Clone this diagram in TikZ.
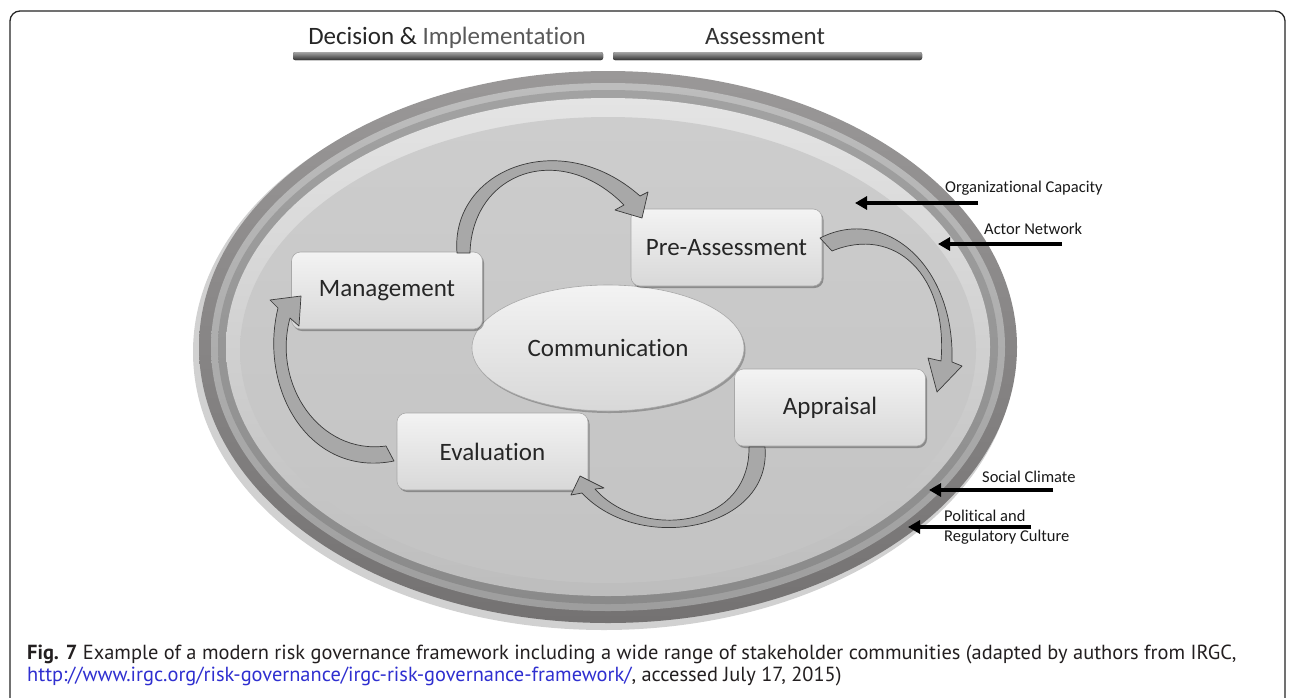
\documentclass[tikz,border=0pt]{standalone}
\usepackage{fontspec}
\setmainfont{Carlito}[Ligatures={NoCommon}]
\newfontfamily\capfont{PT Sans}
\usetikzlibrary{arrows.meta,shadows,shapes.geometric}
\definecolor{ringA1}{HTML}{9A9898}
\definecolor{ringA2}{HTML}{747272}
\definecolor{ringB1}{HTML}{BDBDBD}
\definecolor{ringB2}{HTML}{9E9E9E}
\definecolor{ringC1}{HTML}{A2A2A2}
\definecolor{ringC2}{HTML}{8A8A8A}
\definecolor{ringD1}{HTML}{E4E4E4}
\definecolor{ringD2}{HTML}{BDBDBD}
\definecolor{field1}{HTML}{CDCDCD}
\definecolor{field2}{HTML}{C3C3C3}
\definecolor{boxtop}{HTML}{F3F3F3}
\definecolor{boxbot}{HTML}{D8D8D8}
\definecolor{boxedge}{HTML}{A8A8A8}
\definecolor{boxtext}{HTML}{262626}
\definecolor{arrowfill}{HTML}{A8A8A8}
\definecolor{arrowedge}{HTML}{3A3A3A}
\definecolor{linkblue}{HTML}{2F2FD0}
\definecolor{captext}{HTML}{231F20}
\begin{document}
\begin{tikzpicture}[x=1pt,y=-1pt,
  stagebox/.style={rounded corners=9pt, minimum width=191pt, minimum height=77pt,
    top color=boxtop, bottom color=boxbot, draw=boxedge, line width=0.6pt,
    font=\fontsize{25}{30}\selectfont, text=boxtext, inner sep=0pt,
    drop shadow={shadow xshift=1.5pt, shadow yshift=-2pt, fill=black, opacity=0.3}},
  commshape/.style={ellipse, minimum width=272pt, minimum height=126pt,
    top color=boxtop, bottom color=boxbot, draw=boxedge, line width=0.6pt,
    font=\fontsize{25}{30}\selectfont, text=boxtext, inner sep=0pt,
    drop shadow={shadow xshift=1.5pt, shadow yshift=-2pt, fill=black, opacity=0.25}},
  flowarrow/.style={fill=arrowfill, draw=arrowedge, line width=0.7pt, line join=round},
  pointer/.style={-{Triangle[length=12pt,width=13pt]}, line width=4pt, black},
  sidelabel/.style={font=\fontsize{16.5}{20}\selectfont, text=black!90, inner sep=0pt, anchor=west},
  headlabel/.style={font=\fontsize{25}{30}\selectfont, inner sep=0pt, anchor=base},
  headbar/.style={rounded corners=2pt, top color=black!35, bottom color=black!80, draw=none},
  captionline/.style={anchor=base west, inner sep=0pt, font=\capfont\fontsize{20.4}{24}\selectfont, text=captext}
]
\useasboundingbox (0,0) rectangle (1290,697);
\fill[white] (0,0) rectangle (1290,697);
% frame
\draw[line width=1.3pt, rounded corners=10pt, black!85] (10,720) -- (10,11) -- (1285,11) -- (1285,720);

% header
\node[headlabel] (dec) at (447,44) {\textcolor{black!85}{Decision \&} \textcolor{black!65}{Implementation}};
\node[headlabel, text=black!80] (ass) at (765,44) {Assessment};
\fill[headbar] (293,52) rectangle (603,60);
\fill[headbar] (613,52) rectangle (922,60);

% rings
\fill[black, opacity=0.18] (604,352) ellipse [x radius=411pt, y radius=278pt];
\shade[top color=ringA1, bottom color=ringA2] (608,347) ellipse [x radius=409pt, y radius=276pt];
\shade[top color=ringB1, bottom color=ringB2] (608,347) ellipse [x radius=397pt, y radius=264pt];
\shade[top color=ringC1, bottom color=ringC2] (608,347) ellipse [x radius=390pt, y radius=257pt];
\shade[top color=ringD1, bottom color=ringD2] (608,347) ellipse [x radius=382pt, y radius=249pt];
\shade[top color=field1, bottom color=field2] (608,350) ellipse [x radius=368pt, y radius=233pt];

% centre
\node[commshape] (comm) at (608,348) {Communication};

% stages
\node[stagebox] (mgmt) at (387,290.5) {Management};
\node[stagebox] (pre) at (726.5,247.5) {Pre-Assessment};
\node[stagebox] (app) at (830,407.5) {Appraisal};
\node[stagebox] (eva) at (492.5,451.5) {Evaluation};

% curved block arrows
\path[flowarrow] (457,253) .. controls (450,170) and (560,125) .. (640,196)
  -- (648,192) -- (642,218) -- (615,210) -- (624,205)
  .. controls (560,140) and (472,172) .. (470,253) -- cycle;
\path[flowarrow] (820,238) .. controls (885,205) and (955,265) .. (952,362)
  -- (962,366) -- (937,392) -- (928,358) -- (941,361)
  .. controls (948,275) and (895,225) .. (832,251) -- cycle;
\path[flowarrow] (765,447) .. controls (772,530) and (640,555) .. (582,493)
  -- (571,495) -- (580,476) -- (604,488) -- (595,489)
  .. controls (640,540) and (750,530) .. (749,447) -- cycle;
\path[flowarrow] (394,461) .. controls (310,478) and (258,390) .. (278,308)
  -- (270,300) -- (301,296) -- (299,326) -- (290,318)
  .. controls (272,385) and (320,455) .. (386,446) -- cycle;

% outside influences
\node[sidelabel] (orgl) at (945,188) {Organizational Capacity};
\node[sidelabel] (actl) at (984,229) {Actor Network};
\node[sidelabel] (socl) at (982,477) {Social Climate};
\node[sidelabel, align=left] (poll) at (944,527) {Political and\\Regulatory Culture};
\coordinate (org-s) at (978,203); \coordinate (org-e) at (855,203);
\coordinate (act-s) at (1062,244); \coordinate (act-e) at (938,244);
\coordinate (soc-s) at (1053,490); \coordinate (soc-e) at (929,490);
\coordinate (pol-s) at (1031,527); \coordinate (pol-e) at (908,527);
\draw[pointer] (org-s) -- (org-e);
\draw[pointer] (act-s) -- (act-e);
\draw[pointer] (soc-s) -- (soc-e);
\draw[pointer] (pol-s) -- (pol-e);

% caption
\node[captionline] (cap1) at (27,659)
  {\textbf{Fig. 7} Example of a modern risk governance framework including a wide range of stakeholder communities (adapted by authors from IRGC,};
\node[captionline] (cap2) at (27,681)
  {\textcolor{linkblue}{http://www.irgc.org/risk-governance/irgc-risk-governance-framework/}, accessed July 17, 2015)};
\end{tikzpicture}
\end{document}
